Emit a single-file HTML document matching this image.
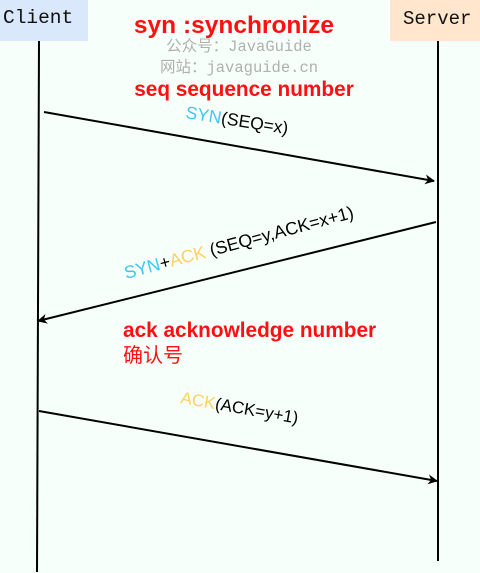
<!DOCTYPE html>
<html><head><meta charset="utf-8"><style>
html,body{margin:0;padding:0;background:#f7fffa;}
svg{display:block;}
</style></head><body>
<svg width="480" height="573" viewBox="0 0 480 573" xmlns="http://www.w3.org/2000/svg">
<rect width="480" height="573" fill="#f7fffa"/>
<rect x="0" y="0" width="88" height="41" fill="#dae8fc"/>
<rect x="390" y="0" width="90" height="41" fill="#ffe6cc"/>
<text x="3" y="23" font-family="Liberation Mono, monospace" font-size="19.5" fill="#111">Client</text>
<text x="403" y="24" font-family="Liberation Mono, monospace" font-size="19" fill="#111">Server</text>
<line x1="39" y1="41" x2="37" y2="572" stroke="#000" stroke-width="2"/>
<line x1="438" y1="41" x2="438" y2="561" stroke="#000" stroke-width="2"/>
<defs><marker id="a" markerWidth="10" markerHeight="10" refX="9" refY="5" orient="auto" markerUnits="userSpaceOnUse"><path d="M0,0 L10,5 L0,10 L3,5 Z" fill="#000"/></marker></defs>
<line x1="44" y1="112" x2="434" y2="181" stroke="#000" stroke-width="2" marker-end="url(#a)"/>
<line x1="436" y1="222" x2="38" y2="321" stroke="#000" stroke-width="2" marker-end="url(#a)"/>
<line x1="39" y1="411" x2="437" y2="481" stroke="#000" stroke-width="2" marker-end="url(#a)"/>
<g font-family="Liberation Sans, Noto Sans CJK SC, sans-serif" font-weight="bold" fill="#ff1010">
<text x="234" y="33" font-size="24.5" text-anchor="middle">syn :synchronize</text>
<text x="244" y="96" font-size="20.8" text-anchor="middle">seq sequence number</text>
<text x="123" y="337" font-size="20.8">ack acknowledge number</text>
</g>
<text x="123" y="362" font-family="Liberation Sans, Noto Sans CJK SC, sans-serif" font-size="20" fill="#ff1010">确认号</text>
<g font-family="Liberation Mono, Noto Sans CJK SC, monospace" font-size="15.5" fill="#b0b0b0" text-anchor="middle">
<text x="239" y="51">公众号：JavaGuide</text>
<text x="239" y="72">网站：javaguide.cn</text>
</g>
<g font-family="Liberation Sans, sans-serif" font-size="17.5">
<text transform="translate(185,118) rotate(9)"><tspan fill="#3cc8f5">SYN</tspan><tspan fill="#000">(SEQ=x)</tspan></text>
<text transform="translate(126,279) rotate(-15)" font-size="17.8"><tspan fill="#3cc8f5">SYN</tspan><tspan fill="#000">+</tspan><tspan fill="#ffd060">ACK</tspan><tspan fill="#000"> (SEQ=y,ACK=x+1)</tspan></text>
<text transform="translate(180,403) rotate(10)" font-size="17"><tspan fill="#ffd060">ACK</tspan><tspan fill="#000">(ACK=y+1)</tspan></text>
</g>
</svg>
</body></html>
